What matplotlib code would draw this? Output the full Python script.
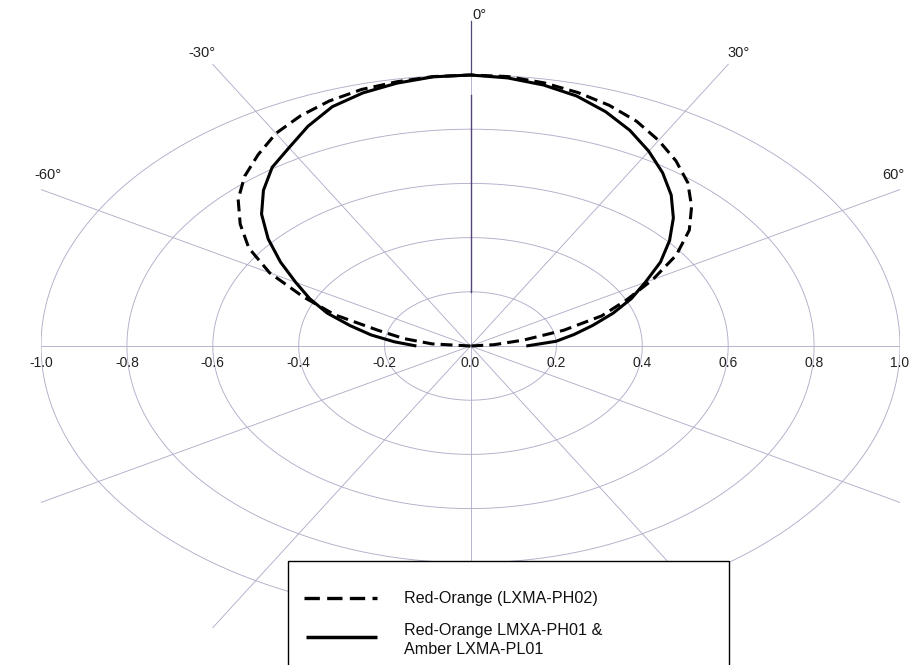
import numpy as np
import matplotlib
matplotlib.use('Agg')
import matplotlib.pyplot as plt
from matplotlib.patches import Rectangle
from matplotlib.lines import Line2D

plt.rcParams['font.family'] = ['Liberation Sans', 'DejaVu Sans']

# angle from the 0 deg (vertical) direction, degrees
angles = [-90, -85, -80, -75, -70, -65, -60, -55, -50, -45, -40, -35, -30,
          -25, -20, -15, -10, -5, 0, 5, 10, 15, 20, 25, 30, 35, 40, 45, 50,
          55, 60, 65, 70, 75, 80, 85, 90]

# Red-Orange (LXMA-PH02), relative intensity
r_ph02 = [0.0, 0.09, 0.157, 0.222, 0.336, 0.43, 0.54, 0.63, 0.70, 0.765,
          0.818, 0.862, 0.906, 0.937, 0.962, 0.98, 0.99, 0.998, 1.0, 0.998,
          0.986, 0.968, 0.945, 0.915, 0.876, 0.834, 0.787, 0.728, 0.665,
          0.585, 0.49, 0.40, 0.325, 0.225, 0.125, 0.055, 0.0]

# Red-Orange LMXA-PH01 & Amber LXMA-PL01
r_ph01 = [0.126, 0.178, 0.235, 0.29, 0.355, 0.413, 0.47, 0.54, 0.615,
          0.688, 0.75, 0.805, 0.845, 0.895, 0.94, 0.967, 0.985, 0.997, 1.0,
          0.993, 0.978, 0.955, 0.92, 0.878, 0.83, 0.78, 0.727, 0.668, 0.605,
          0.54, 0.47, 0.413, 0.353, 0.295, 0.245, 0.2, 0.13]

ring_values = [0.2, 0.4, 0.6, 0.8, 1.0]
spoke_angles = [0, 30, 60, 90, 120, 150, 180, 210, 240, 270, 300, 330]
tick_values = [-1.0, -0.8, -0.6, -0.4, -0.2, 0.0, 0.2, 0.4, 0.6, 0.8, 1.0]
angle_labels = [-60, -30, 0, 30, 60]

label1 = 'Red-Orange (LXMA-PH02)'
label2a = 'Red-Orange LMXA-PH01 &'
label2b = 'Amber LXMA-PL01'

W, H = 911, 665
GRID = '#b3adc9'
DARK = '#55467a'


def to_xy(deg, r):
    t = np.radians(np.asarray(deg, dtype=float))
    r = np.asarray(r, dtype=float)
    return r * np.sin(t), r * np.cos(t)


fig = plt.figure(figsize=(W / 100, H / 100), dpi=100)
ax = fig.add_axes([41 / W, 0, 859 / W, 1])
ax.set_xlim(-1, 1)
ax.set_ylim((346 - H) / 271, 346 / 271)
ax.axis('off')

# elliptical rings
phi = np.linspace(0, 360, 361)
for rv in ring_values:
    x, y = to_xy(phi, np.full_like(phi, rv))
    ax.plot(x, y, color=GRID, lw=0.65, zorder=1)

# spokes
for a in spoke_angles:
    x, y = to_xy([a, a], [0, 1.2])
    ax.plot(x, y, color=GRID, lw=0.65, zorder=1)

# value axis on 0 deg
x, y = to_xy([0, 0], [0.2, 0.925])
ax.plot(x, y, color=DARK, lw=1.0, zorder=2)
x, y = to_xy([0, 0], [1.0, 1.2])
ax.plot(x, y, color=DARK, lw=0.9, zorder=2)

# data curves
x, y = to_xy(angles, r_ph02)
ax.plot(x, y, color='black', lw=2.2, linestyle=(0, (3.9, 2.0)),
        dash_capstyle='butt', zorder=4)
x, y = to_xy(angles, r_ph01)
ax.plot(x, y, color='black', lw=2.2, solid_capstyle='butt', zorder=5)

# tick labels along the horizontal axis
for tv in tick_values:
    ax.text(tv, -0.063, '%.1f' % tv, ha='center', va='center',
            fontsize=10, color='#222222', clip_on=False)

# angle labels
for a in angle_labels:
    if a == 0:
        ax.text(0.005, 1.22, '0°', ha='left', va='center', fontsize=10.5,
                color='#222222', clip_on=False)
    elif abs(a) == 30:
        lx, ly = to_xy(a, 1.25)
        ax.text(lx, ly, '%d°' % a, ha='center', va='center', fontsize=10.5,
                color='#222222', clip_on=False)
    else:
        ax.text(np.sign(a) * 0.985, 0.63, '%d°' % a, ha='center',
                va='center', fontsize=10.5, color='#222222', clip_on=False)

# legend box (drawn in pixel positions of the figure)
fig.patches.append(Rectangle((288 / W, -0.01), 441 / W, (H - 561) / H + 0.01,
                             transform=fig.transFigure, facecolor='white',
                             edgecolor='black', lw=1.0, zorder=10))
fig.lines.append(Line2D([304 / W, 377 / W], [1 - 598 / H] * 2,
                        transform=fig.transFigure, color='black', lw=2.4,
                        linestyle=(0, (4.6, 2.2)), dash_capstyle='butt',
                        zorder=11))
fig.lines.append(Line2D([306 / W, 377 / W], [1 - 637 / H] * 2,
                        transform=fig.transFigure, color='black', lw=2.5,
                        solid_capstyle='butt', zorder=11))
fig.text(404 / W, 1 - 598 / H, label1, ha='left', va='center',
         fontsize=11.6, color='#111111', zorder=12)
fig.text(404 / W, 1 - 630 / H, label2a, ha='left', va='center',
         fontsize=11.6, color='#111111', zorder=12)
fig.text(404 / W, 1 - 650 / H, label2b, ha='left', va='center',
         fontsize=11.6, color='#111111', zorder=12)

fig.savefig('out.png', dpi=100, facecolor='white')
